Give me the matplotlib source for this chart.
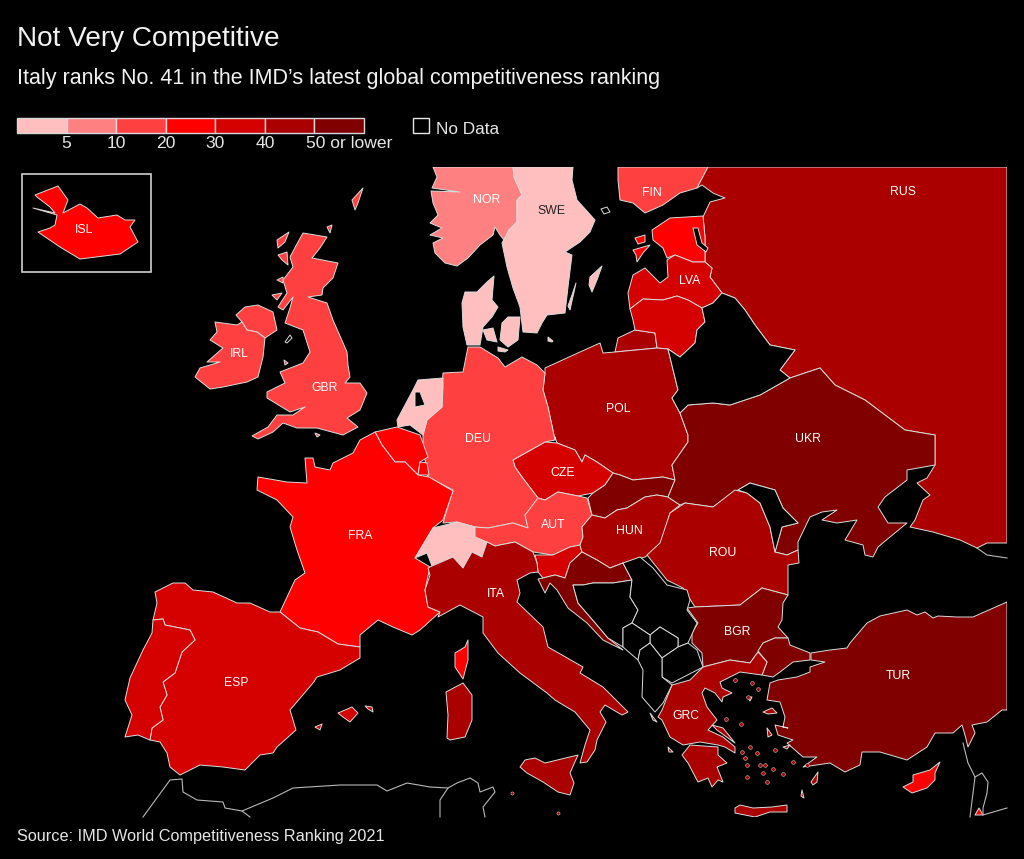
import matplotlib
matplotlib.use("Agg")
import matplotlib.pyplot as plt
from matplotlib.patches import Polygon, Rectangle

plt.rcParams['font.family'] = ['Liberation Sans', 'DejaVu Sans']

# legend classes
legend_ticks = ["5", "10", "20", "30", "40", "50 or lower"]
class_colors = ["#ffbfbf", "#ff8080", "#ff4040", "#ff0000", "#d50000", "#aa0000", "#800000"]

# outlines, in pixels of the 1024x859 image
NOR = [(433,167),(513,167),(514,177),(522,195),(517,200),(517,222),(509,230),(508,245),(500,235),(495,227),(493,235),(480,245),(468,258),(457,266),(445,263),(435,253),(433,243),(443,238),(430,235),(442,228),(430,223),(438,215),(433,203),(431,191),(460,192),(432,188),(437,177)]
SWE = [(513,167),(573,167),(572,180),(577,200),(595,220),(590,232),(580,242),(565,252),(572,255),(568,287),(565,313),(547,315),(542,323),(537,333),(523,332),(520,307),(513,288),(507,267),(502,243),(509,230),(517,222),(517,200),(522,195),(514,177)]
GOTLAND = [(590,277),(602,266),(597,280),(592,292),(589,285)]
OLAND = [(576,283),(570,310),(568,306),(572,295)]
JUTLAND = [(494,276),(492,300),(498,307),(492,317),(483,327),(480,345),(467,345),(463,327),(462,303),(465,292),(477,292),(487,282)]
ZEALAND = [(502,323),(508,317),(520,317),(518,340),(508,347),(500,340)]
FUNEN = [(483,330),(493,328),(497,342),(487,340)]
LOLLAND = [(498,347),(508,350),(505,352),(498,351)]
BORNHOLM = [(548,337),(553,341),(552,342),(548,341)]
FIN = [(618,167),(708,167),(697,188),(680,193),(663,205),(645,213),(633,203),(620,200),(618,180)]
ALAND = [(601,209),(607,207),(610,212),(604,214)]
EST = [(652,230),(670,218),(703,216),(705,237),(705,262),(693,262),(675,255),(667,258),(663,248),(653,240)]
PEIPUS = [(693,228),(698,228),(702,243),(708,248),(706,252),(697,245)]
SAAREMAA = [(633,250),(650,245),(643,253),(637,262),(636,255)]
HIIUMAA = [(635,238),(645,235),(645,242),(638,244)]
LVA = [(633,275),(645,268),(660,283),(668,277),(667,260),(675,255),(693,262),(705,262),(712,268),(710,277),(722,293),(713,303),(702,308),(688,300),(677,296),(663,300),(643,299),(630,309),(628,293)]
LTU = [(630,309),(643,299),(663,300),(677,296),(688,300),(702,308),(705,322),(697,330),(695,343),(680,357),(668,349),(657,348),(655,333),(635,330),(633,320)]
KALININGRAD = [(618,338),(635,330),(655,333),(657,348),(615,352)]
POL = [(545,368),(580,352),(600,343),(603,353),(615,352),(657,348),(668,349),(678,390),(672,398),(680,413),(688,435),(688,442),(672,465),(675,480),(663,477),(633,480),(620,475),(613,473),(597,462),(585,455),(582,462),(575,450),(557,443),(555,437),(555,440),(548,407),(543,390),(545,373)]
CZE = [(513,460),(545,442),(557,443),(575,450),(582,462),(585,455),(597,462),(613,473),(605,485),(593,493),(578,496),(558,492),(545,500),(538,498),(522,477),(515,467)]
DEU = [(443,373),(463,372),(468,347),(480,347),(498,358),(505,367),(522,357),(537,365),(545,373),(543,390),(548,407),(555,440),(545,442),(513,460),(515,467),(522,477),(538,498),(533,508),(525,515),(528,528),(513,523),(488,528),(475,527),(457,522),(443,523),(453,490),(428,477),(425,460),(423,443),(423,435),(427,420),(442,407),(442,387)]
NLD = [(397,420),(413,390),(418,380),(443,378),(443,387),(442,407),(427,420),(423,435),(410,425),(398,427)]
IJSSEL = [(415,392),(420,392),(425,405),(415,407)]
BEL = [(375,432),(397,427),(420,435),(428,457),(420,462),(418,475),(405,462),(395,462),(382,445)]
LUX = [(420,462),(427,463),(429,475),(418,475)]
FRA = [(360,440),(375,432),(382,445),(395,462),(405,462),(418,475),(429,477),(453,491),(443,520),(433,528),(415,558),(430,567),(425,590),(428,607),(440,612),(420,630),(412,635),(393,627),(378,620),(360,635),(360,647),(338,644),(318,632),(300,628),(280,612),(295,580),(305,573),(297,550),(290,527),(293,517),(277,500),(257,490),(258,477),(287,482),(307,483),(305,458),(313,458),(315,467),(330,470),(333,463),(353,453)]
CORSICA = [(468,640),(468,660),(463,679),(455,667),(455,653),(465,647)]
CHE = [(415,558),(433,528),(457,522),(475,527),(475,537),(487,542),(482,557),(472,552),(463,568),(453,557),(432,566),(427,553)]
AUT = [(475,527),(488,528),(513,523),(528,528),(525,515),(538,498),(545,500),(558,492),(578,496),(587,498),(592,515),(582,527),(583,537),(580,545),(570,547),(553,555),(533,552),(515,542),(495,546),(487,542),(475,537)]
SVN = [(535,555),(553,555),(570,547),(580,545),(582,552),(570,563),(565,578),(555,575),(543,578),(538,572),(537,563)]
SVK = [(588,498),(593,493),(605,485),(613,473),(620,475),(633,480),(663,477),(675,480),(668,497),(657,495),(645,497),(627,508),(617,510),(605,518),(592,515)]
HUN = [(592,515),(605,518),(617,510),(627,508),(645,497),(657,495),(668,497),(680,505),(670,513),(660,547),(645,557),(623,563),(610,568),(597,560),(582,552),(580,545),(583,537),(582,527)]
HRV = [(582,552),(597,560),(610,568),(623,563),(632,580),(613,583),(593,583),(583,585),(573,585),(578,603),(597,625),(608,638),(623,650),(603,640),(587,623),(568,608),(557,590),(550,583),(545,593),(538,579),(543,578),(555,575),(565,578),(570,563)]
BIH = [(573,585),(583,585),(593,583),(613,583),(632,580),(630,597),(638,610),(632,623),(623,628),(623,647),(608,638),(597,625),(578,603)]
SRB = [(623,563),(640,557),(653,568),(667,585),(687,590),(690,600),(687,610),(697,623),(688,643),(678,647),(678,638),(660,627),(650,635),(632,623),(638,610),(630,597),(632,580)]
KOS = [(660,627),(678,638),(678,647),(662,658),(650,643),(650,635)]
MNE = [(623,628),(632,623),(650,635),(650,643),(640,650),(638,660),(623,647)]
MKD = [(662,658),(678,647),(688,643),(697,650),(703,667),(672,683),(662,677)]
ALB = [(638,660),(640,650),(650,643),(662,658),(662,677),(672,685),(663,703),(655,712),(642,697),(643,670)]
ITA = [(428,568),(432,566),(453,557),(463,568),(472,552),(482,557),(487,542),(495,546),(515,542),(533,552),(537,563),(538,572),(530,573),(517,580),(520,593),(517,602),(543,627),(548,647),(583,667),(580,673),(603,687),(628,712),(622,715),(605,705),(600,712),(606,722),(597,740),(595,750),(587,762),(580,763),(585,745),(590,730),(575,712),(555,700),(547,693),(520,673),(498,653),(483,633),(483,617),(460,605),(438,617),(440,612),(428,607),(425,590),(430,575)]
SICILY = [(520,767),(525,760),(535,758),(545,763),(578,755),(570,773),(574,783),(570,795),(558,792),(543,782),(527,773)]
SARDINIA = [(446,692),(463,683),(472,695),(472,720),(465,737),(450,740),(447,738),(448,715)]
MALLORCA = [(338,713),(352,707),(358,713),(350,722),(343,717)]
MENORCA = [(365,706),(372,707),(373,712),(368,709)]
IBIZA = [(315,727),(322,724),(320,730)]
ESP = [(155,592),(163,588),(173,583),(185,583),(193,590),(213,592),(237,603),(250,603),(270,612),(280,612),(300,628),(318,632),(338,644),(360,647),(360,658),(340,670),(317,677),(313,683),(290,710),(296,730),(277,747),(273,753),(260,755),(245,770),(223,767),(200,765),(180,775),(170,767),(167,753),(160,742),(150,740),(152,728),(163,720),(160,707),(167,695),(163,682),(175,673),(182,652),(195,640),(190,630),(180,628),(165,625),(163,619),(153,620),(157,603)]
PRT = [(153,620),(163,619),(165,625),(180,628),(190,630),(195,640),(182,652),(175,673),(163,682),(167,695),(160,707),(163,720),(152,728),(150,740),(138,735),(125,737),(132,715),(125,700),(130,678),(143,650),(152,633)]
UKR = [(680,413),(688,405),(713,403),(730,405),(760,395),(790,378),(820,368),(835,385),(865,400),(885,415),(905,430),(935,435),(935,465),(907,470),(907,480),(885,497),(878,507),(888,523),(907,523),(890,537),(878,547),(873,557),(865,555),(863,545),(845,540),(857,520),(837,523),(822,520),(837,510),(822,512),(810,517),(798,542),(798,550),(787,555),(775,552),(782,527),(798,523),(783,508),(775,490),(750,483),(738,490),(713,507),(685,503),(680,505),(668,497),(675,480),(672,465),(688,442),(688,435)]
MDA = [(738,490),(750,483),(775,490),(783,508),(798,523),(782,527),(775,552),(770,527),(760,503),(747,493)]
RUS = [(708,167),(1007,167),(1007,543),(987,543),(977,548),(960,540),(933,532),(910,527),(915,520),(923,500),(930,495),(917,483),(927,478),(935,465),(935,435),(905,430),(885,415),(865,400),(835,385),(820,368),(790,378),(780,370),(795,350),(770,345),(755,325),(745,310),(735,298),(722,293),(710,277),(712,268),(705,262),(705,237),(703,217),(710,202),(725,198),(713,193),(702,185),(697,188)]
BLR = [(668,349),(680,357),(695,343),(697,330),(705,322),(702,308),(713,303),(722,293),(735,298),(745,310),(755,325),(770,345),(795,350),(780,370),(790,378),(760,395),(730,405),(713,403),(688,405),(680,413),(672,398),(678,390)]
ROU = [(735,490),(713,507),(685,503),(670,513),(660,543),(647,555),(667,580),(683,588),(695,607),(740,605),(762,588),(788,595),(788,565),(799,563),(798,550),(787,555),(775,552),(770,527),(760,503),(747,493)]
BGR = [(695,607),(740,605),(762,588),(788,595),(783,603),(782,620),(778,627),(788,638),(775,638),(763,643),(758,652),(750,663),(730,660),(703,667),(702,653),(692,643),(692,633),(698,623),(687,608)]
THRACE = [(758,651),(763,643),(775,638),(788,638),(790,645),(810,653),(810,660),(793,662),(780,672),(773,677),(762,675),(767,662)]
TUR = [(1007,602),(973,617),(957,617),(938,616),(933,618),(925,612),(917,615),(907,610),(880,616),(867,623),(850,643),(847,648),(830,650),(811,653),(811,660),(825,662),(810,667),(810,672),(797,677),(778,680),(770,683),(767,700),(780,702),(785,717),(783,727),(788,728),(775,725),(778,735),(793,740),(787,743),(803,757),(817,757),(803,767),(830,763),(845,772),(860,765),(862,752),(880,752),(907,760),(927,747),(935,733),(953,733),(962,725),(965,735),(968,747),(975,733),(972,725),(987,722),(1002,710),(1007,710)]
GRC = [(672,685),(690,680),(703,667),(730,660),(750,663),(758,652),(767,662),(762,675),(740,672),(720,682),(722,688),(732,693),(723,697),(722,702),(715,693),(705,688),(702,693),(707,707),(717,720),(708,730),(723,737),(735,747),(735,753),(725,747),(718,745),(700,742),(683,745),(670,737),(662,720),(658,717),(662,710)]
PELOPONNESE = [(682,755),(690,745),(718,747),(718,755),(727,763),(717,767),(723,782),(718,780),(712,787),(708,778),(698,782),(688,763)]
CRETE = [(735,808),(740,805),(753,808),(772,807),(787,805),(787,812),(770,812),(755,817),(735,813)]
LESBOS = [(763,712),(772,708),(777,713),(768,714)]
CHIOS = [(767,728),(772,735),(768,737)]
SAMOS = [(783,747),(790,745),(787,749)]
RHODES = [(811,782),(818,772),(817,782),(813,785)]
KARPATHOS = [(802,790),(804,798),(801,796)]
EUBOEA = [(712,725),(723,728),(735,743),(728,738),(717,730)]
LEMNOS = [(747,697),(752,697),(750,701)]
CORFU = [(650,713),(657,722),(653,720)]
KEFALONIA = [(668,747),(673,752),(669,752)]
CYP = [(903,787),(913,782),(913,775),(930,770),(940,762),(935,773),(935,780),(927,788),(912,793)]
ISR = [(975,815),(979,808),(983,815)]
GBR = [(303,233),(327,237),(320,248),(312,258),(338,263),(333,278),(323,288),(322,295),(308,297),(327,303),(333,320),(347,352),(348,365),(350,377),(345,383),(360,383),(367,393),(360,410),(347,418),(358,427),(343,435),(317,428),(297,428),(283,423),(273,432),(258,439),(252,436),(268,427),(277,415),(293,415),(305,407),(290,412),(267,398),(267,392),(285,383),(280,372),(303,363),(310,352),(303,330),(285,323),(290,308),(293,297),(283,310),(278,307),(287,293),(283,280),(293,267),(290,257),(298,242)]
NIR = [(236,315),(245,307),(258,305),(273,312),(277,330),(265,338),(257,332),(247,330),(242,322)]
IRL = [(215,322),(237,325),(242,322),(247,330),(257,332),(265,338),(263,357),(258,377),(247,382),(223,387),(210,389),(195,377),(200,368),(220,362),(207,362),(223,348),(210,340),(217,332)]
LEWIS = [(277,240),(289,232),(285,242),(278,248)]
SKYE = [(278,255),(287,252),(288,265),(282,260)]
ISLAY = [(272,295),(282,293),(277,300)]
MULL = [(277,280),(283,277),(283,283)]
ANGLESEY = [(284,360),(288,363),(285,365)]
WIGHT = [(315,433),(320,435),(317,437)]
ORKNEY = [(327,227),(332,225),(330,233)]
SHETLAND = [(352,200),(363,188),(358,203),(355,210)]
MAN = [(285,342),(290,335),(292,338),(287,343)]
ISL = [(35,195),(58,186),(68,200),(63,213),(80,204),(87,208),(98,218),(117,215),(125,220),(135,220),(130,227),(138,242),(120,254),(80,259),(60,247),(38,232),(50,228),(55,225),(57,215),(33,208),(55,213),(50,207),(37,197)]

# tiny greek islands, too small to trace
islet_x = [750,757,742,745,747,760,765,773,763,783,767,747,775,793,807,735,752,758,748,741,726]
islet_y = [747,753,752,758,765,765,765,769,773,774,782,777,750,762,765,680,683,689,697,724,719]

# (outline, class index into class_colors), black ones are no data
filled = [
    (NOR,1),(SWE,0),(GOTLAND,0),(OLAND,0),(JUTLAND,0),(ZEALAND,0),(FUNEN,0),(LOLLAND,0),(BORNHOLM,0),
    (FIN,2),(RUS,5),(KALININGRAD,5),(EST,3),(SAAREMAA,3),(HIIUMAA,3),(LVA,4),(LTU,4),
    (POL,5),(CZE,4),(DEU,2),(NLD,0),(BEL,3),(LUX,3),(FRA,3),(CORSICA,3),(CHE,0),(AUT,2),(SVN,4),
    (SVK,6),(HUN,5),(HRV,6),(ITA,5),(SICILY,5),(SARDINIA,5),(ESP,4),(MALLORCA,4),(MENORCA,4),(IBIZA,4),(PRT,4),
    (UKR,6),(ROU,5),(BGR,6),(THRACE,6),(TUR,6),(GRC,5),(PELOPONNESE,5),(CRETE,5),(LESBOS,5),(CHIOS,5),
    (SAMOS,5),(RHODES,5),(KARPATHOS,5),(EUBOEA,5),(LEMNOS,5),(CORFU,5),(KEFALONIA,5),(CYP,3),(ISR,3),
    (GBR,2),(NIR,2),(IRL,2),(LEWIS,2),(SKYE,2),(ISLAY,2),(MULL,2),(ANGLESEY,2),(WIGHT,2),(ORKNEY,2),(SHETLAND,2),
    (ISL,3),
]
no_data = [PEIPUS,IJSSEL,ALAND,BIH,SRB,KOS,MNE,MKD,ALB,MDA,BLR,MAN]

# thin lines with no fill
AFRICA = [(143,817),(170,780),(182,779),(183,792),(197,800),(223,802),(225,808),(242,811),(273,798),(293,788),(340,785),(377,785),(387,791),(407,783),(430,787),(448,788),(457,783),(470,778),(478,783),(480,792),(493,787),(495,792),(483,807),(485,817)]
MOROCCO = [(242,811),(250,817)]
ALGERIA = [(448,788),(440,800),(440,817)]
GEORGIA = [(977,548),(987,555),(1007,558)]
LEVANT = [(963,743),(968,763),(975,777),(970,817)]
JORDAN = [(975,777),(982,773),(988,782),(987,793),(983,808),(983,815),(1007,808)]
lines = [AFRICA,MOROCCO,ALGERIA,GEORGIA,LEVANT,JORDAN]

# country codes and where they sit
labels = ["RUS","NOR","SWE","FIN","LVA","ISL","IRL","GBR","POL","UKR","DEU","CZE","AUT","HUN","ROU","FRA","ITA","BGR","TUR","ESP","GRC"]
label_x = [903,487,551,652,690,84,239,325,618,808,478,563,553,629,723,360,496,737,898,236,686]
label_y = [192,200,211,193,281,230,354,388,409,439,439,473,525,531,553,536,594,632,676,683,716]
dark_labels = ["SWE"]

OUTLINE = "#dcdcdc"
fig = plt.figure(figsize=(10.24, 8.59), dpi=100, facecolor="black")
ax = fig.add_axes([0, 0, 1, 1])
ax.set_xlim(0, 1024)
ax.set_ylim(859, 0)
ax.axis("off")

clip = Rectangle((0, 167), 1007, 650, transform=ax.transData)

for outline, cls in filled:
    p = Polygon(outline, closed=True, facecolor=class_colors[cls], edgecolor=OUTLINE, linewidth=0.7, joinstyle="round")
    ax.add_patch(p)
    p.set_clip_path(clip)
for outline in no_data:
    p = Polygon(outline, closed=True, facecolor="black", edgecolor=OUTLINE, linewidth=0.7, joinstyle="round")
    ax.add_patch(p)
ax.scatter(islet_x, islet_y, s=7, color=class_colors[5], edgecolor="#c8c8c8", linewidth=0.4)
for line in lines:
    xs, ys = zip(*line)
    ax.plot(xs, ys, color="#b8b8b8", linewidth=0.8)
ax.scatter([512, 558], [793, 813], s=5, color="#aa0000", edgecolor="#c8c8c8", linewidth=0.4)

for name, x, y in zip(labels, label_x, label_y):
    ax.text(x, y, name, color="#222222" if name in dark_labels else "white", fontsize=8.8, ha="center", va="center")

# iceland inset frame
ax.add_patch(Rectangle((22, 174), 129, 98, facecolor="none", edgecolor="#d0d0d0", linewidth=1.2))

# legend bar
bar_left, bar_w = 17, 347 / 7
for i, c in enumerate(class_colors):
    ax.add_patch(Rectangle((bar_left + i * bar_w, 118), bar_w, 15, facecolor=c, edgecolor="#d8d8d8", linewidth=1.0))
for i, t in enumerate(legend_ticks):
    x = bar_left + (i + 1) * bar_w
    if t == legend_ticks[-1]:
        ax.text(393, 144, t, color="#e6e6e6", fontsize=12.6, ha="right", va="center")
    else:
        ax.text(x, 144, t, color="#e6e6e6", fontsize=12.6, ha="center", va="center")
ax.add_patch(Rectangle((413, 118), 16, 15, facecolor="black", edgecolor="#e6e6e6", linewidth=1.0))
ax.text(436, 129, "No Data", color="#e6e6e6", fontsize=12.4, ha="left", va="center")

ax.text(17, 38.5, "Not Very Competitive", color="#f2f2f2", fontsize=20.2, ha="left", va="center")
ax.text(17, 78.5, "Italy ranks No. 41 in the IMD\u2019s latest global competitiveness ranking", color="#f2f2f2", fontsize=15.5, ha="left", va="center")
ax.text(17, 836, "Source: IMD World Competitiveness Ranking 2021", color="#e6e6e6", fontsize=11.7, ha="left", va="center")

fig.savefig("out.png", dpi=100, facecolor="black")
